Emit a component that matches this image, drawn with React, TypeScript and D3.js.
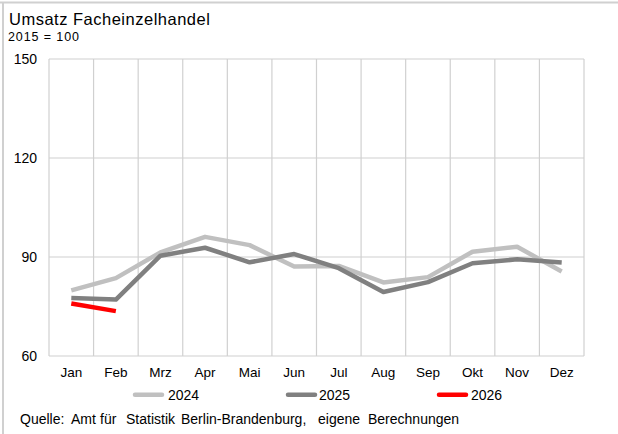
import React from "react";
import * as d3 from "d3";

const months = ["Jan", "Feb", "Mrz", "Apr", "Mai", "Jun", "Jul", "Aug", "Sep", "Okt", "Nov", "Dez"];
const values2024 = [79.9, 83.6, 91.4, 96.1, 93.6, 87.1, 87.3, 82.3, 83.9, 91.6, 93.1, 85.6];
const values2025 = [77.6, 77.1, 90.4, 92.8, 88.4, 90.9, 86.6, 79.4, 82.4, 88.1, 89.3, 88.3];
const values2026 = [75.9, 73.6];
const yTicks = [60, 90, 120, 150];
const seriesNames = ["2024", "2025", "2026"];
const seriesColors = ["#c0c0c0", "#808080", "#ff0000"];
const sourceWords = ["Quelle:", "Amt", "für", "Statistik", "Berlin-Brandenburg,", "eigene", "Berechnungen"];

const W = 618;
const H = 434;
const left = 49;
const right = 584;
const top = 59;
const bottom = 356;
const font = "'Liberation Sans', Arial, sans-serif";

export default function App() {
  const x = d3.scaleBand<string>().domain(months).range([left, right]);
  const y = d3.scaleLinear().domain([60, 150]).range([bottom, top]);
  const line = d3
    .line<number>()
    .x((_, i) => (x(months[i]) as number) + x.bandwidth() / 2)
    .y((d) => y(d));
  const series = [values2024, values2025, values2026];
  const legendLineX = [133, 286, 437];
  const legendTextX = [168, 319, 471];
  const sourceX = [20, 71, 100, 126, 181, 318, 368];
  const gridColor = "#d0d0d0";

  return (
    <svg
      width={W}
      height={H}
      style={{ position: "absolute", left: 0, top: 0, background: "#fff" }}
      fontFamily={font}
    >
      <line x1={0} x2={W} y1={2.5} y2={2.5} stroke="#d0d0d0" strokeWidth={2} />
      <line x1={3} x2={3} y1={2} y2={H} stroke="#d0d0d0" strokeWidth={2} />
      <text x={9} y={25} fontSize={16.5} letterSpacing={0.5} fill="#000">Umsatz Facheinzelhandel</text>
      <text x={8} y={41} fontSize={12.5} letterSpacing={0.9} fill="#000">2015 = 100</text>

      {yTicks.map((t) => (
        <g key={t}>
          <line x1={left} x2={right} y1={y(t)} y2={y(t)} stroke={gridColor} strokeWidth={1.2} />
          <text x={37} y={y(t)} dy="0.35em" textAnchor="end" fontSize={14} fill="#000">
            {t}
          </text>
        </g>
      ))}
      {months.map((m) => (
        <line
          key={m}
          x1={x(m) as number}
          x2={x(m) as number}
          y1={top}
          y2={bottom}
          stroke={gridColor}
          strokeWidth={1.2}
        />
      ))}
      <line x1={right} x2={right} y1={top} y2={bottom} stroke={gridColor} strokeWidth={1.2} />
      {months.map((m) => (
        <text
          key={m}
          x={(x(m) as number) + x.bandwidth() / 2}
          y={377}
          textAnchor="middle"
          fontSize={13.5}
          fill="#000"
        >
          {m}
        </text>
      ))}

      {series.map((s, i) => (
        <path
          key={i}
          d={line(s) || ""}
          fill="none"
          stroke={seriesColors[i]}
          strokeWidth={4.5}
          strokeLinejoin="round"
          strokeLinecap="butt"
        />
      ))}

      {seriesNames.map((n, i) => (
        <g key={n}>
          <line
            x1={legendLineX[i] + 2}
            x2={legendLineX[i] + 29}
            y1={394.7}
            y2={394.7}
            stroke={seriesColors[i]}
            strokeWidth={4.5}
            strokeLinecap="round"
          />
          <text x={legendTextX[i]} y={400} fontSize={14} fill="#000">
            {n}
          </text>
        </g>
      ))}

      <text y={424} fontSize={14} fill="#000">
        {sourceWords.map((w, i) => (
          <tspan key={i} x={sourceX[i]}>
            {w}
          </tspan>
        ))}
      </text>
    </svg>
  );
}
